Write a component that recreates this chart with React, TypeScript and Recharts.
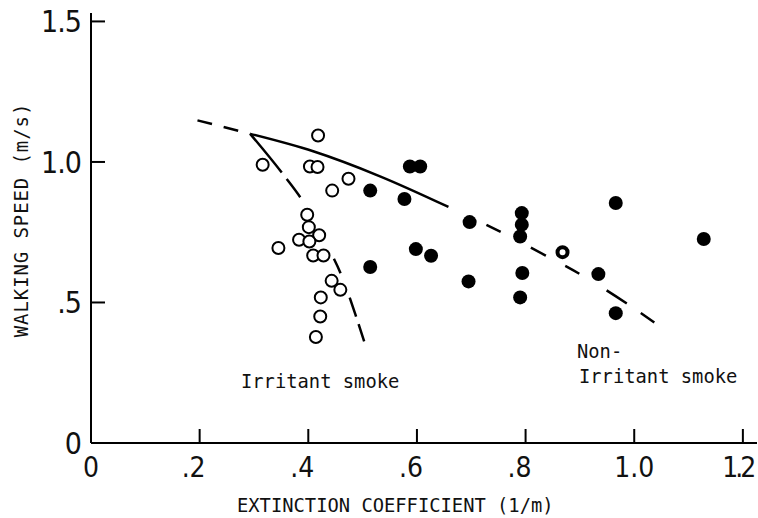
import { ComposedChart, Scatter, Line, XAxis, YAxis } from 'recharts';

// x = extinction coefficient (1/m), y = walking speed (m/s)
const irritantX = [0.418, 0.316, 0.403, 0.417, 0.474, 0.444, 0.398, 0.401, 0.42, 0.383, 0.402, 0.345, 0.409, 0.428, 0.443, 0.459, 0.423, 0.422, 0.414];
const irritantY = [1.094, 0.99, 0.984, 0.982, 0.94, 0.898, 0.812, 0.768, 0.739, 0.723, 0.717, 0.694, 0.667, 0.667, 0.577, 0.545, 0.518, 0.45, 0.377];

const nonIrritantX = [0.514, 0.514, 0.587, 0.606, 0.577, 0.697, 0.793, 0.793, 0.79, 0.966, 1.128, 0.598, 0.626, 0.695, 0.794, 0.79, 0.934, 0.966];
const nonIrritantY = [0.898, 0.626, 0.984, 0.984, 0.868, 0.786, 0.818, 0.777, 0.735, 0.854, 0.726, 0.69, 0.666, 0.575, 0.605, 0.518, 0.601, 0.462];

// the one ring-shaped marker
const ringX = [0.868];
const ringY = [0.679];

// hand-drawn trend curves
const leftDashX = [0.196, 0.293];
const leftDashY = [1.148, 1.1];
const solidX = [0.293, 0.409, 0.532, 0.658];
const solidY = [1.1, 1.038, 0.949, 0.84];
const rightDashX = [0.658, 0.727, 0.837, 0.899, 0.985, 1.037];
const rightDashY = [0.84, 0.777, 0.667, 0.602, 0.498, 0.429];
const irritantCurveX = [0.293, 0.354, 0.388, 0.43, 0.462, 0.49, 0.505];
const irritantCurveY = [1.1, 0.955, 0.866, 0.72, 0.592, 0.438, 0.349];

const xTicks = [0, 0.2, 0.4, 0.6, 0.8, 1.0, 1.2];
const xTickLabels = ['0', '.2', '.4', '.6', '.8', '1.0', '1.2'];
const yTicks = [0, 0.5, 1.0, 1.5];
const yTickLabels = ['0', '.5', '1.0', '1.5'];

const zip = (xs: number[], ys: number[]) => xs.map((x, i) => ({ x, y: ys[i] }));

const numFont = '"Liberation Sans Narrow", "DejaVu Sans Condensed", "Liberation Sans", sans-serif';
const monoFont = '"DejaVu Sans Mono", "Liberation Mono", monospace';

const XTick = (props: any) => {
  const { x, y, payload } = props;
  const i = xTicks.indexOf(payload.value);
  const label = xTickLabels[i] ?? String(payload.value);
  let dx = label.startsWith('.') ? -6 : 0;
  // last label is squeezed against the right edge in the original
  const squeeze = i === xTicks.length - 1;
  if (squeeze) dx = -5;
  return (
    <g>
      {i > 0 && <line x1={x} y1={y} x2={x} y2={y - 14} stroke="#000" strokeWidth={2} />}
      <text x={x + dx} y={y + 34} textAnchor="middle" fontFamily={numFont} fontSize={28} fill="#111"
        letterSpacing={squeeze ? -3 : 0}>
        {label}
      </text>
    </g>
  );
};

const YTick = (props: any) => {
  const { x, y, payload } = props;
  const i = yTicks.indexOf(payload.value);
  const label = yTickLabels[i] ?? String(payload.value);
  return (
    <g>
      {i > 0 && <line x1={x} y1={y} x2={x + 14} y2={y} stroke="#000" strokeWidth={2} />}
      <text x={x - 10} y={y + 11} textAnchor="end" fontFamily={numFont} fontSize={30} fill="#111"
        letterSpacing={-1}>
        {label}
      </text>
    </g>
  );
};

const OpenDot = (props: any) => (
  <circle cx={props.cx} cy={props.cy} r={6} fill="#fff" stroke="#000" strokeWidth={2} />
);
const FilledDot = (props: any) => <circle cx={props.cx} cy={props.cy} r={7} fill="#000" />;
const RingDot = (props: any) => (
  <circle cx={props.cx} cy={props.cy} r={5} fill="#fff" stroke="#000" strokeWidth={4} />
);

export default function App() {
  return (
    <div style={{ position: 'absolute', left: 0, top: 0, width: 758, height: 518, background: '#fff' }}>
      <ComposedChart width={758} height={518} margin={{ top: 13, right: 1, bottom: 0, left: 0 }}>
        <XAxis
          type="number"
          dataKey="x"
          domain={[0, 1.226]}
          ticks={xTicks}
          interval={0}
          height={75}
          tickSize={0}
          tickMargin={0}
          tickLine={false}
          axisLine={{ stroke: '#000', strokeWidth: 2 }}
          tick={<XTick />}
          allowDataOverflow
        />
        <YAxis
          type="number"
          dataKey="y"
          domain={[0, 1.53]}
          ticks={yTicks}
          interval={0}
          width={91}
          tickSize={0}
          tickMargin={0}
          tickLine={false}
          axisLine={{ stroke: '#000', strokeWidth: 2 }}
          tick={<YTick />}
          allowDataOverflow
        />
        <Line data={zip(leftDashX, leftDashY)} dataKey="y" type="linear" stroke="#000" strokeWidth={2.5}
          strokeDasharray="15 12" dot={false} isAnimationActive={false} />
        <Line data={zip(solidX, solidY)} dataKey="y" type="monotone" stroke="#000" strokeWidth={2.5}
          dot={false} isAnimationActive={false} />
        <Line data={zip(rightDashX, rightDashY)} dataKey="y" type="monotone" stroke="#000" strokeWidth={2.5}
          strokeDasharray="0 42 16 34 17 22 16 32 24 17 18 100" dot={false} isAnimationActive={false} />
        <Line data={zip(irritantCurveX, irritantCurveY)} dataKey="y" type="monotone" stroke="#000" strokeWidth={2.5}
          strokeDasharray="50 8 23 70 16 26 20 8 18 100" dot={false} isAnimationActive={false} />
        <Scatter data={zip(irritantX, irritantY)} shape={<OpenDot />} isAnimationActive={false} />
        <Scatter data={zip(nonIrritantX, nonIrritantY)} shape={<FilledDot />} isAnimationActive={false} />
        <Scatter data={zip(ringX, ringY)} shape={<RingDot />} isAnimationActive={false} />
      </ComposedChart>
      <svg width={758} height={518} style={{ position: 'absolute', left: 0, top: 0, pointerEvents: 'none' }}>
        <text x={22} y={220} transform="rotate(-90 22 220)" dy={6} textAnchor="middle" fontFamily={monoFont}
          fontSize={19} letterSpacing={0.9} fill="#111">
          WALKING SPEED (m/s)
        </text>
        <text x={237} y={512} fontFamily={monoFont} fontSize={18.8} fill="#111">
          EXTINCTION COEFFICIENT (1/m)
        </text>
        <text x={241} y={388} fontFamily={monoFont} fontSize={18.8} fill="#111">
          Irritant smoke
        </text>
        <text x={577} y={358} fontFamily={monoFont} fontSize={18.8} fill="#111">
          Non-
        </text>
        <text x={579} y={383} fontFamily={monoFont} fontSize={18.8} fill="#111">
          Irritant smoke
        </text>
      </svg>
    </div>
  );
}
